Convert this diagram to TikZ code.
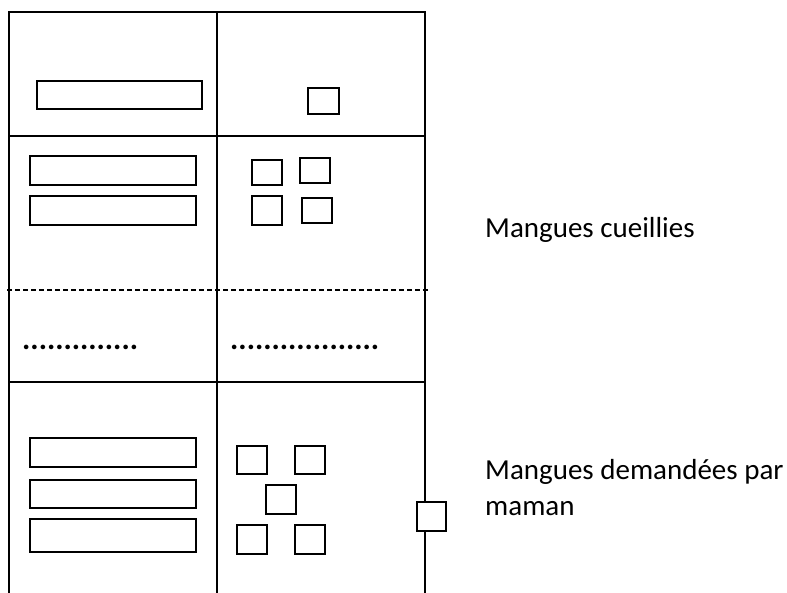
\documentclass[tikz,border=0pt]{standalone}
\usepackage{fontspec}
\setmainfont{Carlito}
\begin{document}
\begin{tikzpicture}[x=1pt,y=-1pt,
  tableline/.style={line width=2.4pt,line cap=rect},
  sepline/.style={line width=2.4pt,dash pattern=on 5pt off 3pt},
  bar/.style={draw,line width=2.4pt,minimum width=166pt,minimum height=29pt,inner sep=0pt,outer sep=0pt},
  sq/.style={draw,line width=2.4pt,minimum width=30pt,minimum height=27pt,inner sep=0pt,outer sep=0pt},
  dots/.style={font=\fontsize{31}{31}\selectfont\bfseries,inner sep=0pt,anchor=base west},
  label/.style={font=\fontsize{29}{36}\selectfont,inner sep=0pt,anchor=base west,align=left}]
\useasboundingbox (0,0) rectangle (787,592);
% table frame
\coordinate (tl) at (9,12);
\coordinate (tm) at (217,12);
\coordinate (tr) at (425,12);
\coordinate (bl) at (9,592);
\coordinate (bm) at (217,592);
\coordinate (br) at (425,592);
\coordinate (h1l) at (9,136);
\coordinate (h1r) at (425,136);
\coordinate (h2l) at (9,382);
\coordinate (h2r) at (425,382);
\coordinate (dl) at (7,290);
\coordinate (dr) at (429,290);
\draw[tableline] (bl) -- (tl) -- (tr) -- (br);
\draw[tableline] (tm) -- (bm);
\draw[tableline] (h1l) -- (h1r);
\draw[tableline] (h2l) -- (h2r);
\draw[sepline] (dl) -- (dr);
% row 1
\node[bar,minimum width=165pt,minimum height=28pt] (b1) at (119.5,95) {};
\node[sq,minimum width=31pt,minimum height=26pt] (s1) at (323.5,101) {};
% row 2
\node[bar] (b21) at (113,170.5) {};
\node[bar] (b22) at (113,210.5) {};
\node[sq,minimum height=25pt] (s21) at (267,172.5) {};
\node[sq,minimum height=25pt] (s22) at (315,170.5) {};
\node[sq,minimum height=29pt] (s23) at (267,210.5) {};
\node[sq,minimum height=25pt] (s24) at (317,210.5) {};
% row 3
\node[dots] (d1) at (22,349) {..............};
\node[dots] (d2) at (230,349) {..................};
% row 4
\node[bar] (b41) at (113,452.5) {};
\node[bar,minimum height=28pt] (b42) at (113,494) {};
\node[bar,minimum height=33pt] (b43) at (113,535.5) {};
\node[sq,minimum height=28pt] (s41) at (252,460) {};
\node[sq,minimum height=28pt] (s42) at (310,460) {};
\node[sq,minimum height=29pt] (s43) at (281,499.5) {};
\node[sq,minimum height=29pt] (s44) at (252,539.5) {};
\node[sq,minimum height=29pt] (s45) at (310,539.5) {};
\node[sq,fill=white,minimum width=29pt,minimum height=29pt] (s46) at (431.5,516.5) {};
% labels
\node[label] (l1) at (485,237) {Mangues cueillies};
\node[label] (l2) at (485,515) {Mangues demandées par\\maman};
\end{tikzpicture}
\end{document}
